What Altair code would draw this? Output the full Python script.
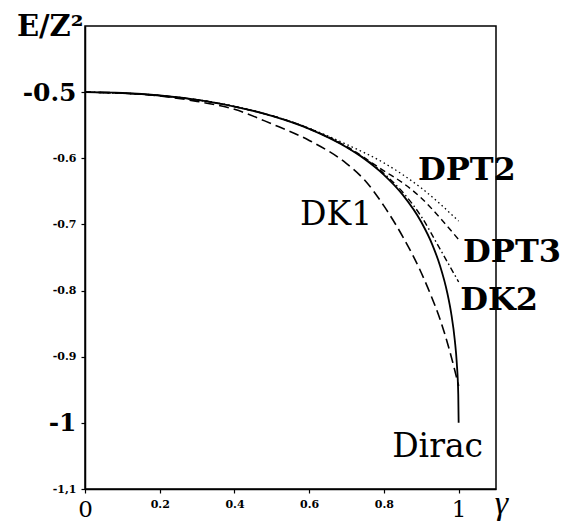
import altair as alt
import pandas as pd

# ---- data ----
dirac_g = [0, 0.1, 0.2, 0.3, 0.4, 0.5, 0.6, 0.7, 0.75, 0.8, 0.85, 0.9, 0.93, 0.95, 0.97, 0.98, 0.99, 0.995, 0.999, 1.0]
dirac_e = [-0.5, -0.5013, -0.5051, -0.5118, -0.5218, -0.5359, -0.5556, -0.5834, -0.6019, -0.625, -0.655, -0.6964,
           -0.7312, -0.7621, -0.8044, -0.834, -0.8764, -0.9092, -0.9572, -1.0]

dk1_g = [0, 0.1, 0.2, 0.3, 0.4, 0.5, 0.6, 0.7, 0.75, 0.8, 0.85, 0.9, 0.925, 0.95, 0.975, 1.0]
dk1_e = [-0.5, -0.5014, -0.5058, -0.514, -0.526, -0.548, -0.573, -0.608, -0.634, -0.672, -0.718, -0.773,
         -0.806, -0.843, -0.889, -0.944]

dpt2_g = [0, 0.2, 0.4, 0.6, 0.7, 0.8, 0.9, 1.0]
dpt2_e = [-0.5, -0.5051, -0.5215, -0.5545, -0.579, -0.607, -0.645, -0.695]

dpt3_g = [0, 0.2, 0.4, 0.6, 0.7, 0.8, 0.85, 0.9, 0.95, 1.0]
dpt3_e = [-0.5, -0.5051, -0.5217, -0.555, -0.582, -0.619, -0.637, -0.66, -0.69, -0.723]

dk2_g = [0, 0.2, 0.4, 0.6, 0.7, 0.8, 0.85, 0.9, 0.95, 1.0]
dk2_e = [-0.5, -0.5051, -0.5218, -0.5555, -0.583, -0.623, -0.651, -0.688, -0.737, -0.787]

label_text = ["DPT2", "DK1", "DPT3", "DK2", "Dirac"]
label_g = [0.891, 0.5755, 1.012, 1.004, 0.822]
label_e = [-0.6328, -0.7009, -0.7568, -0.8294, -1.0517]
label_weight = ["bold", "normal", "bold", "bold", "normal"]

x_ticks = [0, 0.2, 0.4, 0.6, 0.8, 1.0]
y_ticks = [-1.1, -1.0, -0.9, -0.8, -0.7, -0.6, -0.5]

SERIF = "DejaVu Serif"

big_x = "datum.value == 0 || abs(datum.value - 1) < 0.001"
x_axis = alt.Axis(
    values=x_ticks,
    labelExpr="datum.value == 0 ? '0' : abs(datum.value - 1) < 0.001 ? '1' : format(datum.value, '.1f')",
    labelFont=SERIF,
    labelFontSize={"condition": {"test": big_x, "value": 23}, "value": 11},
    labelFontWeight={"condition": {"test": big_x, "value": "normal"}, "value": "bold"},
    labelBaseline="top",
    labelPadding=5,
    labelFlush=False,
    labelOverlap=False,
    labelColor="black",
    tickSize=4,
    tickColor="black",
    tickWidth=1.2,
    domainColor="black",
    domainWidth=1.5,
    grid=False,
    title="γ",
    titleFont="Liberation Serif",
    titleFontStyle="italic",
    titleFontWeight="normal",
    titleFontSize=34,
    titleColor="black",
    titleAlign="center",
    titleBaseline="alphabetic",
    titleX=416,
    titleY=24,
)

big_y = "abs(datum.value + 0.5) < 0.001 || abs(datum.value + 1) < 0.001"
y_axis = alt.Axis(
    values=y_ticks,
    labelExpr="datum.value < -1.05 ? '-1,1' : abs(datum.value + 1) < 0.001 ? '-1' : '-' + format(abs(datum.value), '.1f')",
    labelFont=SERIF,
    labelFontSize={"condition": {"test": big_y, "value": 25}, "value": 11},
    labelFontWeight="bold",
    labelBaseline="middle",
    labelAlign="right",
    labelPadding=5,
    labelFlush=False,
    labelOverlap=False,
    labelColor="black",
    tickSize=4,
    tickColor="black",
    tickWidth=1.2,
    domainColor="black",
    domainWidth=1.5,
    grid=False,
    title="E/Z²",
    titleFont=SERIF,
    titleFontWeight="bold",
    titleFontSize=29,
    titleColor="black",
    titleAngle=0,
    titleAlign="right",
    titleBaseline="alphabetic",
    titleX=-2,
    titleY=9,
)

xs = alt.Scale(domain=[0, 1.1], nice=False, zero=False)
ys = alt.Scale(domain=[-1.1, -0.4], nice=False, zero=False)


def enc():
    return dict(
        x=alt.X("g:Q", scale=xs, axis=x_axis),
        y=alt.Y("E:Q", scale=ys, axis=y_axis),
    )


def curve(gs, es, dash, width):
    df = pd.DataFrame({"g": gs, "E": es})
    kw = dict(color="black", strokeWidth=width, interpolate="monotone", clip=True)
    if dash:
        kw["strokeDash"] = dash
    return alt.Chart(df).mark_line(**kw).encode(**enc())


l_dk1 = curve(dk1_g, dk1_e, [10, 5], 1.6)
l_dpt2 = curve(dpt2_g, dpt2_e, [1.5, 3], 1.3)
l_dpt3 = curve(dpt3_g, dpt3_e, [6, 4], 1.4)
l_dk2 = curve(dk2_g, dk2_e, [6, 3, 1.5, 3], 1.4)
l_dirac = curve(dirac_g, dirac_e, None, 1.8)

lab_df = pd.DataFrame({"g": label_g, "E": label_e, "t": label_text, "w": label_weight})
labels_bold = alt.Chart(lab_df[lab_df.w == "bold"]).mark_text(
    font=SERIF, fontSize=32, fontWeight="bold", align="left", baseline="alphabetic", color="black"
).encode(text="t:N", **enc())
labels_norm = alt.Chart(lab_df[lab_df.w == "normal"]).mark_text(
    font=SERIF, fontSize=33, fontWeight="normal", align="left", baseline="alphabetic", color="black"
).encode(text="t:N", **enc())

chart = alt.layer(l_dk1, l_dpt2, l_dpt3, l_dk2, l_dirac, labels_bold, labels_norm).properties(
    width=411,
    height=463,
    autosize=alt.AutoSizeParams(type="none"),
    padding={"left": 77, "top": 18, "right": 66, "bottom": 34},
    background="white",
).configure_view(stroke="black", strokeWidth=1.5)

chart.save("out.html", embed_options={"renderer": "svg", "actions": False})
